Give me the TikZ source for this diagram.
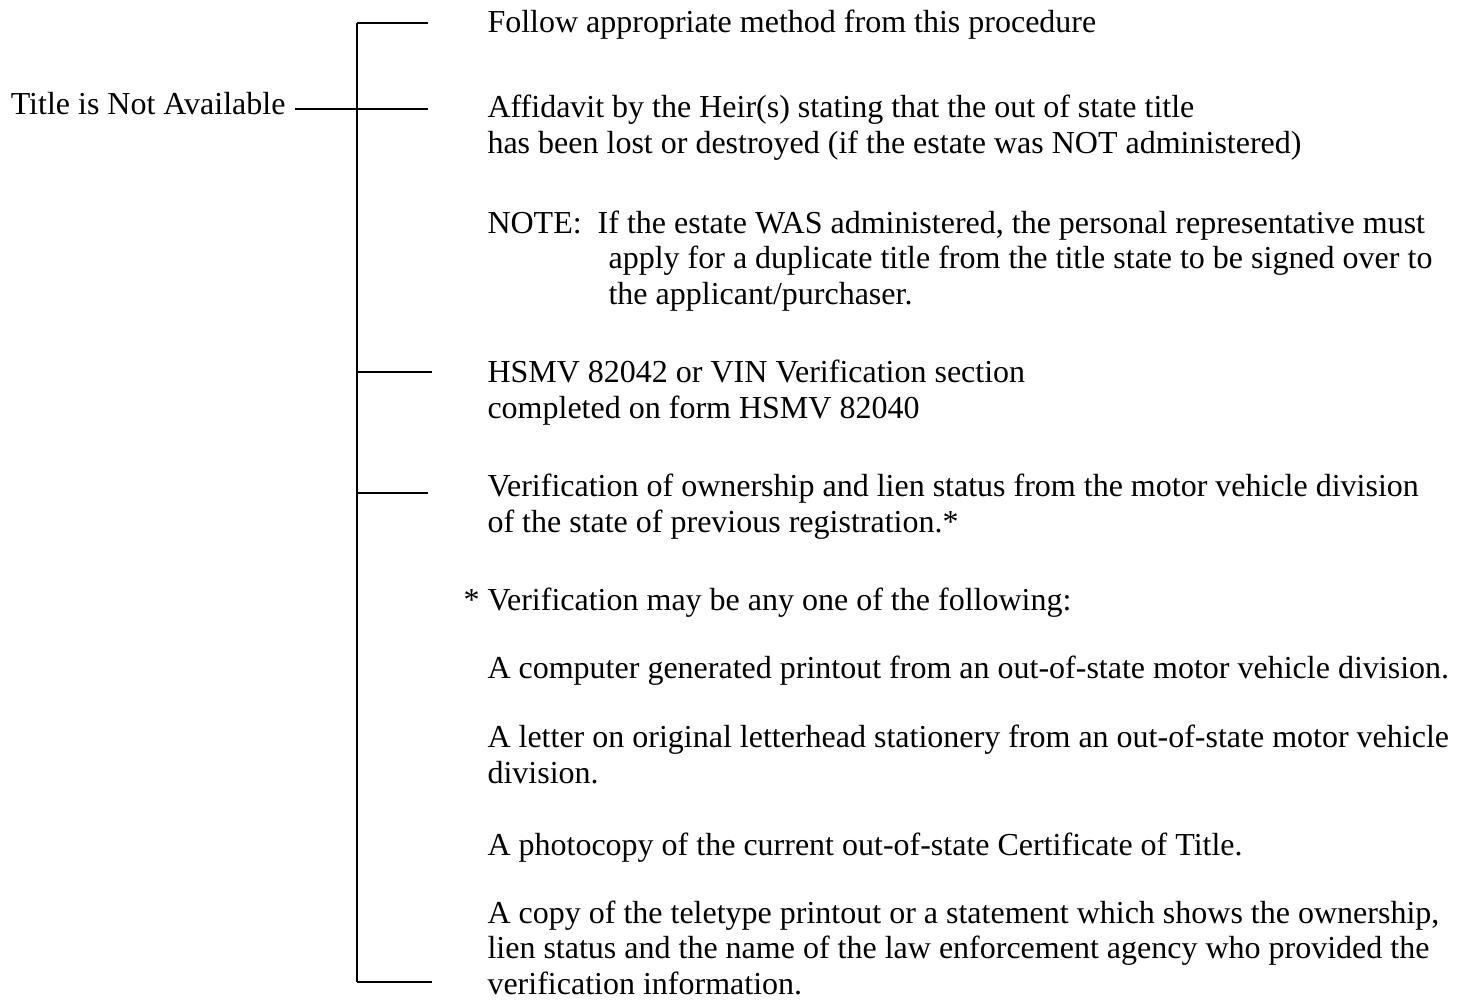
\documentclass[tikz,border=0pt]{standalone}
\usepackage{fontspec}
\setmainfont{Liberation Serif}
\usepackage{tikz}
\usetikzlibrary{
  positioning,
  calc,
}
\tikzset{
  entry/.style={
    anchor=base west, inner sep=0pt, align=left,
    font=\fontsize{12}{13.3}\selectfont,
  },
  bracketline/.style={
    line width=1pt, draw=black,
  },
}

\begin{document}
\begin{tikzpicture}[x=0.375pt, y=-0.375pt]
\useasboundingbox (0,0) rectangle (1466,1005);

% left label
\node[entry, anchor=base east] (title) at (286,114) {Title is Not Available};

% right column (base = baseline of the last line)
\node[entry] (follow) at (487,32) {Follow appropriate method from this procedure};
\node[entry] (affidavit) at (487,153) {Affidavit by the Heir(s) stating that the out of state title\\
  has been lost or destroyed (if the estate was NOT administered)};
\node[entry] (note) at (487,304) {NOTE:\hspace{6pt}If the estate WAS administered, the personal representative must\\
  \hspace*{45.4pt}apply for a duplicate title from the title state to be signed over to\\
  \hspace*{45.4pt}the applicant/purchaser.};
\node[entry] (hsmv) at (487,418) {HSMV 82042 or VIN Verification section\\
  completed on form HSMV 82040};
\node[entry] (ownership) at (487,532) {Verification of ownership and lien status from the motor vehicle division\\
  of the state of previous registration.*};
\node[entry] (anyone) at (487,610) {\llap{*\ }Verification may be any one of the following:};
\node[entry] (printout) at (487,678) {A computer generated printout from an out-of-state motor vehicle division.};
\node[entry] (letter) at (487,783) {A letter on original letterhead stationery from an out-of-state motor vehicle\\
  division.};
\node[entry] (photocopy) at (487,855) {A photocopy of the current out-of-state Certificate of Title.};
\node[entry] (teletype) at (487,994) {A copy of the teletype printout or a statement which shows the ownership,\\
  lien status and the name of the law enforcement agency who provided the\\
  verification information.};

% bracket
\foreach \n/\y/\e in {1/23/428, 2/109/428, 3/372/432, 4/493/428, 5/982/432}{
  \coordinate (s\n) at (357,\y);
  \coordinate (e\n) at (\e,\y);
}
\coordinate (tl) at (295,109);

\draw[bracketline] (s1) -- (s5);
\foreach \n in {1,...,5}
  \draw[bracketline] (s\n) -- (e\n);
\draw[bracketline] (tl) -- (s2);

\end{tikzpicture}
\end{document}
